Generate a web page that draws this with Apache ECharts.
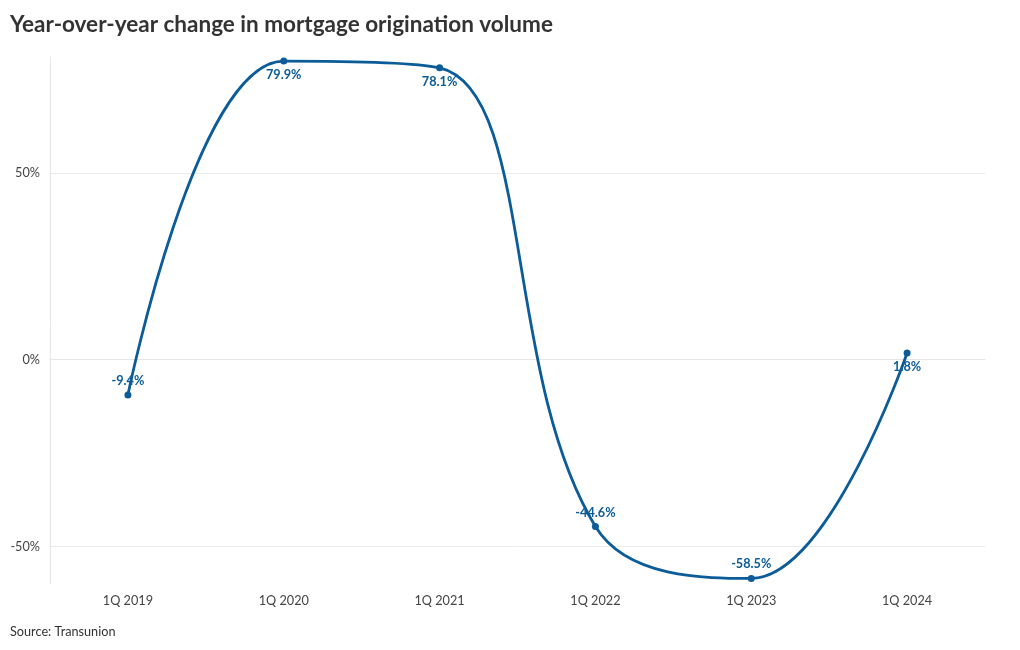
<!DOCTYPE html>
<html>
  <head>
    <meta charset="UTF-8" />
    <title>Mortgage origination volume</title>
    <script src="https://cdn.jsdelivr.net/npm/echarts@6/dist/echarts.min.js"></script>
    <style>
      body { margin: 0; background: #fff; }
    </style>
  </head>
  <body>
    <div id="chart" style="width: 1020px; height: 650px"></div>
  </body>
  <script>
    // data
    const quarters = ["1Q 2019", "1Q 2020", "1Q 2021", "1Q 2022", "1Q 2023", "1Q 2024"];
    const yoyChange = [-9.4, 79.9, 78.1, -44.6, -58.5, 1.8];
    // where each data label sits relative to its point
    const labelSide = ["top", "bottom", "bottom", "top", "top", "bottom"];
    const gridLines = [-50, 0, 50];

    const lineColor = "#0b5c98";
    const font = "Lato, 'Open Sans', sans-serif";

    let myChart = echarts.init(document.getElementById("chart"));

    myChart.setOption({
      animation: false,
      title: {
        text: "Year-over-year change in mortgage origination volume",
        left: 5,
        top: 8,
        textStyle: { fontFamily: font, fontSize: 22.5, fontWeight: "bold", color: "#333" },
      },
      graphic: [
        {
          type: "text",
          left: 10,
          top: 625,
          style: { text: "Source: Transunion", font: "12.7px " + font, fill: "#333" },
        },
      ],
      grid: { left: 50, right: 35, top: 57, bottom: 66 },
      xAxis: {
        type: "category",
        data: quarters,
        boundaryGap: true,
        axisLine: { lineStyle: { color: "#e6e6e6" } },
        axisTick: { alignWithLabel: true, length: 4, lineStyle: { color: "#e6e6e6" } },
        axisLabel: { fontFamily: font, fontSize: 12.7, color: "#444", margin: 10 },
        splitLine: { show: false },
      },
      yAxis: {
        type: "value",
        min: -60,
        max: 81,
        interval: 10,
        axisLine: { show: true, lineStyle: { color: "#e6e6e6" } },
        axisTick: { show: false },
        splitLine: { show: false },
        axisLabel: {
          fontFamily: font,
          fontSize: 12.7,
          color: "#444",
          margin: 10,
          showMaxLabel: false,
          formatter: (v) => (gridLines.includes(v) ? v + "%" : ""),
        },
      },
      series: [
        {
          type: "line",
          data: yoyChange.map((v, i) => ({
            value: v,
            label: { position: labelSide[i] },
          })),
          smooth: 0.4,
          symbol: "circle",
          symbolSize: 7,
          lineStyle: { color: lineColor, width: 2.8 },
          itemStyle: { color: lineColor },
          label: {
            show: true,
            distance: 4,
            formatter: (p) => p.value + "%",
            fontFamily: font,
            fontSize: 12.7,
            fontWeight: "bold",
            color: lineColor,
          },
          markLine: {
            silent: true,
            symbol: "none",
            label: { show: false },
            lineStyle: { color: "#ebebeb", type: "solid", width: 1 },
            data: gridLines.map((v) => ({ yAxis: v })),
            z: 0,
          },
        },
      ],
    });
  </script>
</html>
